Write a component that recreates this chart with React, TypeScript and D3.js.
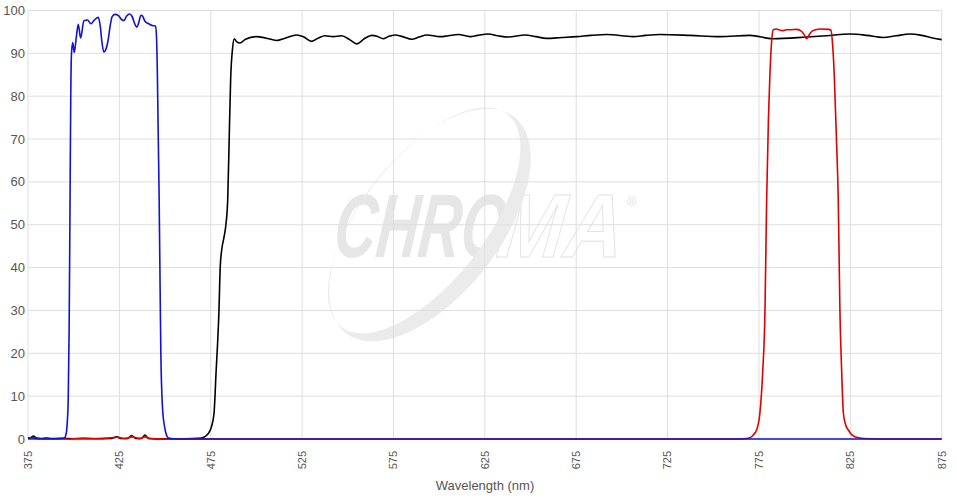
import React from "react";
import * as d3 from "d3";

const W = 957;
const H = 501;

const xTicks = [375, 425, 475, 525, 575, 625, 675, 725, 775, 825, 875];
const yTicks = [0, 10, 20, 30, 40, 50, 60, 70, 80, 90, 100];

const blueNm = [375, 377, 380, 385, 390, 393, 395, 396, 396.5, 397, 397.5, 398, 398.4, 398.8, 399.5, 400.3, 401.5, 402.5, 403.8, 405.6, 407.5, 409.5, 411.1, 413.5, 414.5, 415.5, 416.5, 417.5, 418.8, 420, 421, 422.5, 424.5, 426.5, 427.5, 429, 430.5, 432, 433.5, 434.5, 435.5, 436.8, 437.5, 439, 441, 443, 444.8, 445.3, 445.8, 446.3, 446.8, 447.3, 447.7, 448.3, 448.8, 449.5, 450.2, 451, 452, 455, 460, 875];
const blueT = [0.1, 0.3, 0.1, 0.05, 0.05, 0.1, 0.3, 1.5, 4, 9, 25, 55, 80, 90, 92.5, 90.2, 94, 96.8, 93.6, 97.6, 97.8, 96.9, 97.7, 98.4, 96.5, 92.5, 90.3, 90.8, 93, 96.5, 98.5, 99.1, 98.8, 97.8, 97.7, 98.7, 99.2, 98.6, 96.8, 96.1, 97, 98.9, 98.8, 97.5, 96.9, 96.5, 96.4, 94, 85, 70, 55, 35, 20, 10, 6, 3.5, 1.8, 0.7, 0.2, 0.05, 0, 0];

const blackNm = [375, 376.5, 378, 379.5, 382, 385, 388, 392, 396, 400, 410, 420, 423.7, 426, 429.5, 431.7, 434, 437, 439, 441, 445, 455, 465, 470, 472, 473.7, 475.5, 476.8, 477.9, 479.5, 480.2, 481, 482.3, 483.3, 484.3, 485.2, 485.9, 486.9, 487.9, 489, 491, 494, 500, 505, 511, 516, 522, 526, 530.2, 534, 537.5, 542, 546.7, 551, 554.9, 559, 563.1, 566, 569.4, 572, 575.8, 580, 585, 589, 593.2, 600.5, 605, 610.5, 616.9, 621, 626.9, 632, 637.8, 647, 653, 658.8, 667, 675.3, 683, 691.7, 706.2, 713, 720.8, 737.3, 753.7, 770.1, 782.7, 801.1, 812, 824.8, 834, 842.9, 850, 857.6, 864, 870, 875];
const blackT = [0.2, 0.3, 0.7, 0.2, 0.1, 0.2, 0.1, 0.15, 0.1, 0.05, 0.05, 0.1, 0.5, 0.1, 0.1, 0.8, 0.1, 0.1, 0.9, 0.1, 0, 0.05, 0.1, 0.2, 0.6, 1.3, 3, 6, 15.4, 30, 40.2, 44.1, 47.2, 50, 56, 72, 84, 91, 93.4, 92.8, 92.4, 93.3, 93.9, 93.6, 93.0, 93.6, 94.3, 93.8, 92.8, 93.6, 94.1, 93.9, 94.1, 93.2, 92.2, 93.4, 94.2, 94, 93.4, 93.9, 94.3, 93.9, 93.3, 93.8, 94.3, 93.9, 94.1, 94.4, 93.9, 94.2, 94.5, 94.1, 93.8, 94.3, 93.9, 93.5, 93.7, 93.9, 94.2, 94.4, 93.9, 94.2, 94.4, 94.2, 93.9, 94.2, 93.4, 93.8, 94.1, 94.5, 94.2, 93.7, 94.1, 94.5, 94.2, 93.6, 93.2];

const redNm = [375, 398, 405, 412, 418, 424, 428, 432, 436, 439, 442, 450, 760, 766.3, 770.1, 772, 773.7, 775.5, 777, 778.3, 779.2, 780.2, 781, 781.8, 782.8, 784.7, 786.5, 788.3, 790, 792, 795.6, 798.4, 799.8, 801.1, 802.4, 803.9, 806, 808.4, 813, 814.4, 815.3, 816.2, 817.4, 818.4, 819.3, 820.3, 821.2, 822.5, 823.9, 826, 829.4, 835.8, 845, 875];
const redT = [0, 0, 0.2, 0.1, 0.2, 0.4, 0.1, 0.5, 0.1, 0.5, 0.1, 0, 0, 0.05, 0.3, 1, 2.1, 6, 15.3, 30, 55.8, 75, 85, 92, 95.5, 95.7, 95.4, 95.3, 95.5, 95.5, 95.6, 95.1, 94.3, 93.4, 94.3, 95.1, 95.5, 95.7, 95.6, 95.4, 92, 85, 70, 55.8, 30, 15.3, 6, 3.2, 2.1, 0.9, 0.3, 0.05, 0, 0];

const series = [
  { name: "black", nm: blackNm, t: blackT, color: "#000000" },
  { name: "red", nm: redNm, t: redT, color: "#e00000" },
  { name: "blue", nm: blueNm, t: blueT, color: "#1212d4" },
];

const x = d3.scaleLinear().domain([375, 875]).range([28, 941.7]);
const y = d3.scaleLinear().domain([0, 100]).range([439, 10.5]);

function ellipsePath(cx: number, cy: number, a: number, b: number, rotDeg: number) {
  const r = (rotDeg * Math.PI) / 180;
  const pts: [number, number][] = [];
  for (let i = 0; i <= 120; i++) {
    const t = (i / 120) * Math.PI * 2;
    const ex = a * Math.cos(t);
    const ey = b * Math.sin(t);
    pts.push([cx + ex * Math.cos(r) - ey * Math.sin(r), cy + ex * Math.sin(r) + ey * Math.cos(r)]);
  }
  return d3.line()(pts) + "Z";
}

export default function App() {
  const line = d3
    .line<[number, number]>()
    .x((d) => x(d[0]))
    .y((d) => y(d[1]))
    .curve(d3.curveMonotoneX);

  const rot = -52;
  const rr = (rot * Math.PI) / 180;
  const mx = -Math.sin(rr);
  const my = Math.cos(rr);
  const cx = 430;
  const cy = 225;
  const outer = ellipsePath(cx, cy, 137, 70, rot);
  const inner = ellipsePath(cx - mx * 7.5, cy - my * 7.5, 135, 61.5, rot);

  const font = "Arial, 'Liberation Sans', sans-serif";

  return (
    <svg width={W} height={H} style={{ position: "absolute", left: 0, top: 0, background: "#fff" }} fontFamily={font}>
      <rect x={0} y={0} width={W} height={H} fill="#fff" />
      {/* watermark */}
      <g>
        <text
          x={332}
          y={257}
          fontSize={90}
          fontWeight="bold"
          fontStyle="italic"
          fill="#e6e6e6"
          textLength={172}
          lengthAdjust="spacingAndGlyphs"
          transform="skewX(-6) translate(27,0)"
        >
          CHRO
        </text>
        <text
          x={495}
          y={257}
          fontSize={90}
          fontWeight="bold"
          fontStyle="italic"
          fill="#ffffff"
          stroke="#e2e2e2"
          strokeWidth={1}
          textLength={126}
          lengthAdjust="spacingAndGlyphs"
          transform="skewX(-6) translate(27,0)"
        >
          MA
        </text>
        <text x={627} y={206} fontSize={13} fill="#e2e2e2">®</text>
        <path d={outer + inner} fill="#ebebeb" fillRule="evenodd" />
      </g>
      {/* grid */}
      <g>
        {yTicks.map((t) => (
          <line key={"gy" + t} x1={x(375)} x2={x(875)} y1={y(t)} y2={y(t)} stroke="#dedede" strokeWidth={1} />
        ))}
        {xTicks.map((t) => (
          <line key={"gx" + t} x1={x(t)} x2={x(t)} y1={y(0)} y2={y(100)} stroke="#dedede" strokeWidth={1} />
        ))}
      </g>
      {/* series */}
      {series.map((s) => (
        <path
          key={s.name}
          d={line(s.nm.map((n, i) => [n, s.t[i]] as [number, number])) || ""}
          fill="none"
          stroke={s.color}
          strokeWidth={1.6}
          strokeLinejoin="round"
        />
      ))}
      {/* y labels */}
      {yTicks.map((t) => (
        <text key={"yl" + t} x={25} y={y(t)} dy="0.35em" textAnchor="end" fontSize={13} fill="#555">
          {t}
        </text>
      ))}
      {/* x labels */}
      {xTicks.map((t) => (
        <text
          key={"xl" + t}
          transform={`translate(${x(t)},451) rotate(-90)`}
          dy="0.35em"
          textAnchor="end"
          fontSize={11}
          fill="#555"
        >
          {t}
        </text>
      ))}
      <text x={485} y={490} textAnchor="middle" fontSize={13} fill="#555">
        Wavelength (nm)
      </text>
    </svg>
  );
}
